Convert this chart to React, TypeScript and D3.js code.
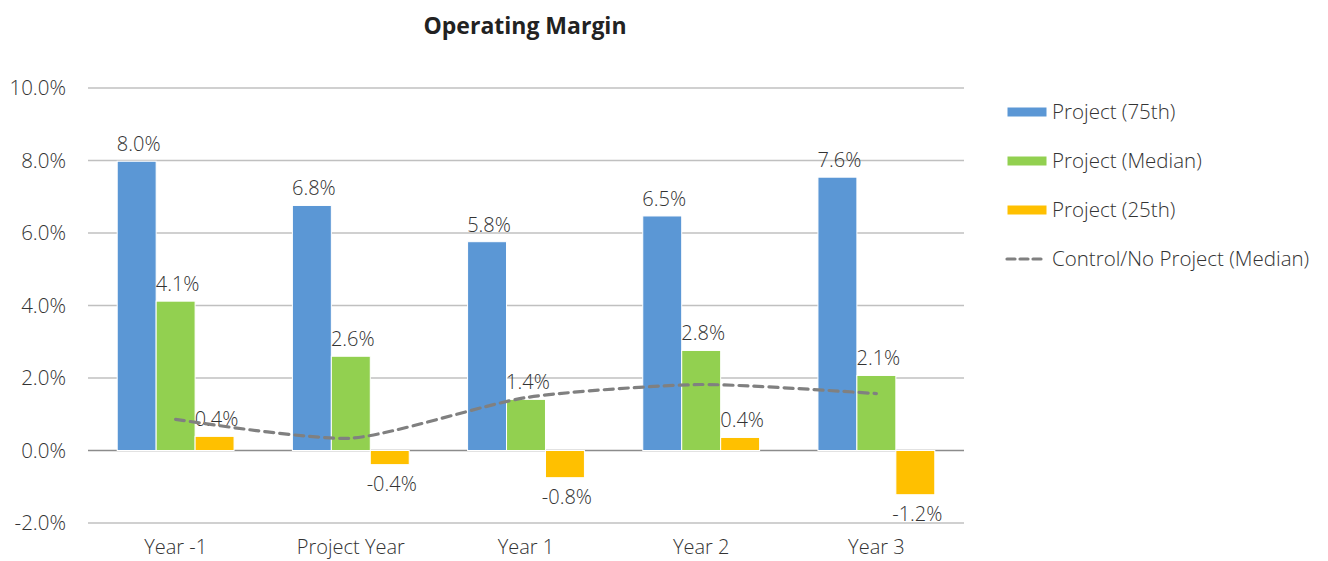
import React from "react";
import * as d3 from "d3";

const categories = ["Year -1", "Project Year", "Year 1", "Year 2", "Year 3"];
const seriesNames = ["Project (75th)", "Project (Median)", "Project (25th)"];
const p75 = [7.98, 6.76, 5.76, 6.47, 7.54];
const median = [4.12, 2.6, 1.41, 2.76, 2.07];
const p25 = [0.39, -0.39, -0.75, 0.36, -1.22];
const controlName = "Control/No Project (Median)";
const control = [0.86, 0.34, 1.46, 1.82, 1.57];
const yTicks = [-2, 0, 2, 4, 6, 8, 10];
const barLabels = [
  ["8.0%", "6.8%", "5.8%", "6.5%", "7.6%"],
  ["4.1%", "2.6%", "1.4%", "2.8%", "2.1%"],
  ["0.4%", "-0.4%", "-0.8%", "0.4%", "-1.2%"],
];
const colors = ["#5b97d5", "#92d050", "#ffc000"];

export default function App() {
  const W = 1328, H = 561;
  const left = 88, right = 964, top = 88, bottom = 523;
  const font = "'Open Sans', 'Segoe UI', sans-serif";
  const textColor = "#333333";

  const y = d3.scaleLinear().domain([-2, 10]).range([bottom, top]);
  const x0 = d3.scaleBand<string>().domain(categories).range([left, right]).paddingInner(0.333).paddingOuter(0.1667);
  const x1 = d3.scaleBand<string>().domain(seriesNames).range([0, x0.bandwidth()]).padding(0);
  const values = [p75, median, p25];

  const line = d3
    .line<number>()
    .x((_, i) => (x0(categories[i]) as number) + x0.bandwidth() / 2)
    .y((d) => y(d))
    .curve(d3.curveCardinal.tension(0.35));

  return (
    <svg width={W} height={H} style={{ position: "absolute", left: 0, top: 0, background: "#fff" }}>
      <text x={525} y={34} textAnchor="middle" fontFamily={font} fontWeight={700} fontSize={23} fill="#222">
        Operating Margin
      </text>
      {yTicks.map((t) => (
        <g key={t}>
          <line x1={left} x2={right} y1={y(t)} y2={y(t)} stroke={t === 0 ? "#8c8c8c" : "#c0c0c0"} strokeWidth={1.3} />
          <text x={66} y={y(t)} dy="0.35em" textAnchor="end" fontFamily={font} fontWeight={300} fontSize={20.5} fill={textColor}>
            {t.toFixed(1) + "%"}
          </text>
        </g>
      ))}
      {categories.map((c, i) => (
        <g key={c} transform={`translate(${x0(c)},0)`}>
          {values.map((vals, s) => {
            const v = vals[i];
            const bx = x1(seriesNames[s]) as number;
            const bw = x1.bandwidth();
            const y0 = y(Math.max(0, v));
            const h = Math.abs(y(v) - y(0));
            return (
              <g key={s}>
                <rect x={bx} y={y0} width={bw} height={h} fill={colors[s]} stroke="#fff" strokeWidth={1} />
                <text
                  x={bx + bw / 2 + 2}
                  y={v >= 0 ? y(v) - 10 : y(v) + 26}
                  textAnchor="middle"
                  fontFamily={font}
                  fontWeight={300}
                  fontSize={20}
                  fill={textColor}
                >
                  {barLabels[s][i]}
                </text>
              </g>
            );
          })}
          <text
            x={x0.bandwidth() / 2}
            y={554}
            textAnchor="middle"
            fontFamily={font}
            fontWeight={300}
            fontSize={20}
            fill={textColor}
          >
            {c}
          </text>
        </g>
      ))}
      <path d={line(control) || ""} fill="none" stroke="#808080" strokeWidth={3.2} strokeDasharray="9,6" strokeLinecap="round" />
      {seriesNames.map((n, s) => (
        <g key={n}>
          <rect x={1007} y={107 + s * 49} width={40} height={10} fill={colors[s]} stroke="#fff" strokeWidth={1} />
          <text x={1052} y={112 + s * 49} dy="0.35em" fontFamily={font} fontWeight={300} fontSize={20.5} fill={textColor}>
            {n}
          </text>
        </g>
      ))}
      <line x1={1007} x2={1043} y1={259} y2={259} stroke="#808080" strokeWidth={3.2} strokeDasharray="8,5" strokeLinecap="round" />
      <text x={1052} y={259} dy="0.35em" fontFamily={font} fontWeight={300} fontSize={20.5} fill={textColor}>
        {controlName}
      </text>
    </svg>
  );
}
